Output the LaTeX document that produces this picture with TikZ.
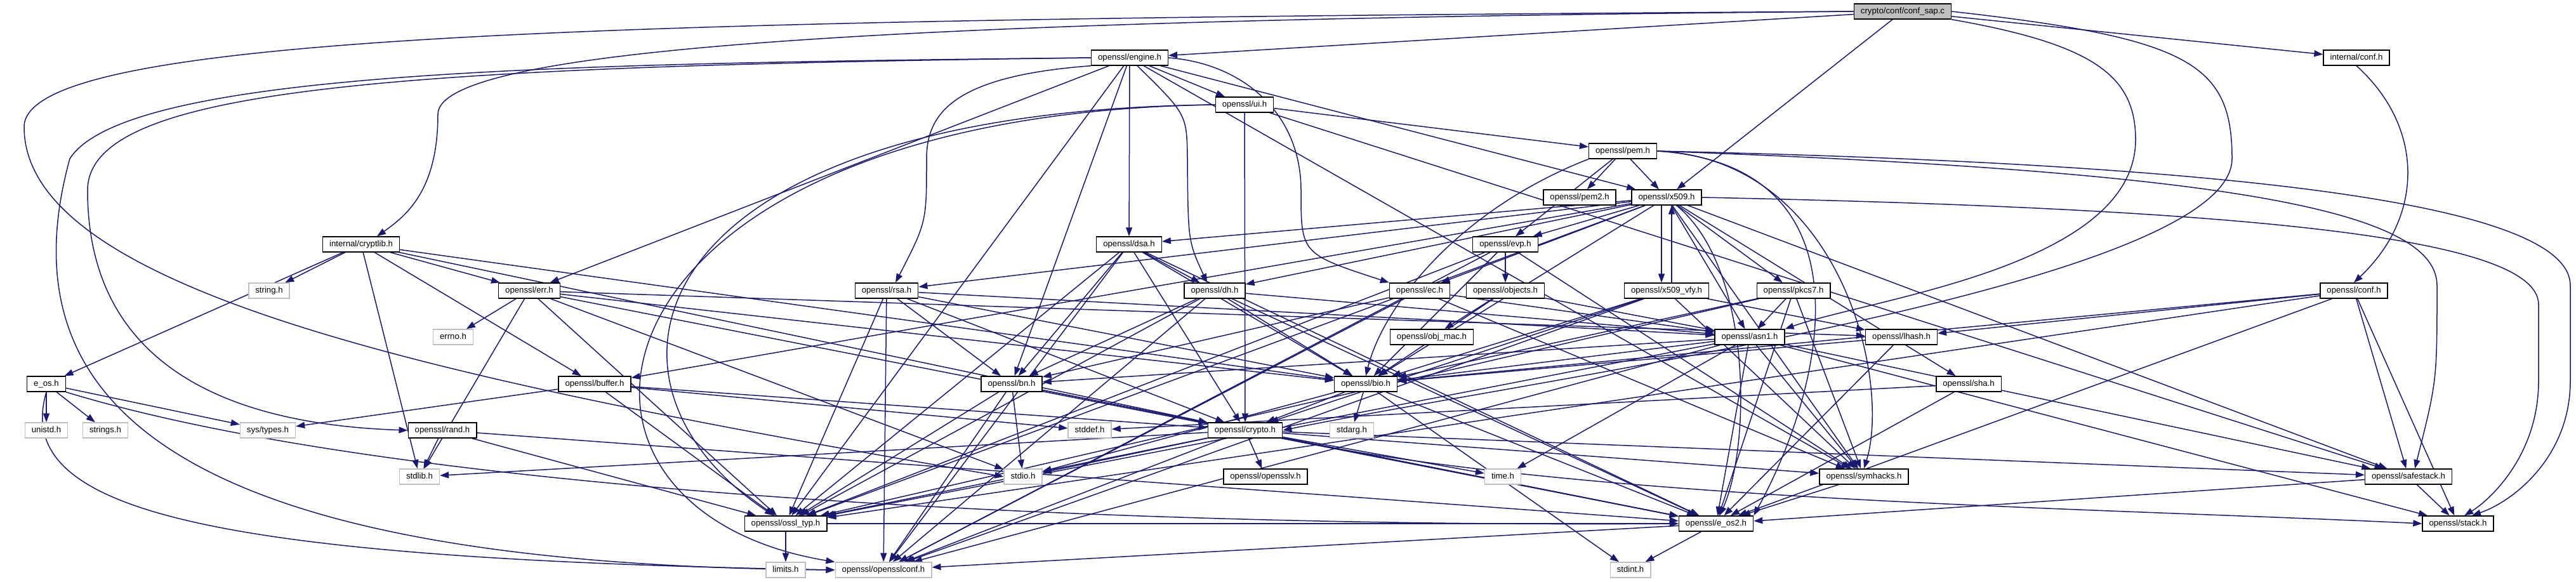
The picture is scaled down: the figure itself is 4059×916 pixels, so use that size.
\documentclass[tikz,border=0pt]{standalone}
\usepackage{fontspec}
\setmainfont{Liberation Sans}
\usepackage{xcolor}
\usetikzlibrary{arrows.meta, positioning}
\pgfdeclarelayer{background}
\pgfsetlayers{background,main}

\definecolor{edgeblue}{RGB}{25,25,112}
\definecolor{sysgray}{RGB}{191,191,191}

\tikzset{
  hfile/.style={draw=black, line width=1.4pt, fill=white, minimum height=24pt,
    inner xsep=10.5pt, inner ysep=0pt, text height=10pt, text depth=3pt,
    font=\fontsize{13.2}{14}\selectfont},
  sysfile/.style={hfile, draw=sysgray},
  srcfile/.style={hfile, fill=sysgray},
  dep/.style={draw=edgeblue, line width=1.5pt, -{Triangle[length=14pt,width=10pt]}},
}

\begin{document}
\begin{tikzpicture}[x=1pt, y=-1pt]
    \useasboundingbox (0,0) rectangle (4059,916);

    % Quelldatei und direkte Header
    \node[srcfile] (sap) at (2998,18) {crypto/conf/conf\_sap.c};
    \node[hfile] (iconf) at (3713,91) {internal/conf.h};
    \node[hfile] (engine) at (1780,91) {openssl/engine.h};
    \node[hfile] (ui) at (1961,165) {openssl/ui.h};
    \node[hfile] (pem) at (2557,238) {openssl/pem.h};
    \node[hfile] (pemtwo) at (2489,311) {openssl/pem2.h};
    \node[hfile] (xfvn) at (2626,311) {openssl/x509.h};
    \node[hfile] (evp) at (2372,385) {openssl/evp.h};
    \node[hfile] (dsa) at (1779,385) {openssl/dsa.h};
    \node[hfile] (cryptlib) at (569,385) {internal/cryptlib.h};

    % mittlere Ebenen
    \node[sysfile] (string) at (424,458) {string.h};
    \node[hfile] (err) at (834,458) {openssl/err.h};
    \node[hfile] (rsa) at (1397,458) {openssl/rsa.h};
    \node[hfile] (dh) at (1914,458) {openssl/dh.h};
    \node[hfile] (ec) at (2237,458) {openssl/ec.h};
    \node[hfile] (objects) at (2372,458) {openssl/objects.h};
    \node[hfile] (vfy) at (2626,458) {openssl/x509\_vfy.h};
    \node[hfile] (pkcs) at (2826,458) {openssl/pkcs7.h};
    \node[hfile] (confh) at (3709,458) {openssl/conf.h};
    \node[sysfile] (errno) at (714,531) {errno.h};
    \node[hfile] (objmac) at (2256,531) {openssl/obj\_mac.h};
    \node[hfile] (asn) at (2757,531) {openssl/asn1.h};
    \node[hfile] (lhash) at (2996,531) {openssl/lhash.h};
    \node[hfile] (eos) at (73,605) {e\_os.h};
    \node[hfile] (buffer) at (937,605) {openssl/buffer.h};
    \node[hfile] (bn) at (1594,605) {openssl/bn.h};
    \node[hfile] (bio) at (2152,605) {openssl/bio.h};
    \node[hfile] (sha) at (3102,605) {openssl/sha.h};

    % untere Ebenen
    \node[sysfile] (unistd) at (73,678) {unistd.h};
    \node[sysfile] (strings) at (166,678) {strings.h};
    \node[sysfile] (systypes) at (422,678) {sys/types.h};
    \node[hfile] (rand) at (697,678) {openssl/rand.h};
    \node[sysfile] (stddef) at (1717,678) {stddef.h};
    \node[hfile] (crypto) at (1962,678) {openssl/crypto.h};
    \node[sysfile] (stdarg) at (2130,678) {stdarg.h};
    \node[sysfile] (stdlib) at (661,751) {stdlib.h};
    \node[sysfile] (stdio) at (1612,751) {stdio.h};
    \node[hfile] (opensslv) at (1994,751) {openssl/opensslv.h};
    \node[sysfile] (time) at (2368,751) {time.h};
    \node[hfile] (symhacks) at (2937,751) {openssl/symhacks.h};
    \node[hfile] (safestack) at (3795,751) {openssl/safestack.h};
    \node[hfile] (ossltyp) at (1238,825) {openssl/ossl\_typ.h};
    \node[hfile] (eostwo) at (2704,825) {openssl/e\_os2.h};
    \node[hfile] (stack) at (3873,825) {openssl/stack.h};
    \node[sysfile] (limits) at (1238,898) {limits.h};
    \node[sysfile] (opensslconf) at (1392,898) {openssl/opensslconf.h};
    \node[sysfile] (stdint) at (2569,898) {stdint.h};

    \begin{pgfonlayer}{background}
    % conf_sap.c
    \foreach \t in {engine,iconf,xfvn} \draw[dep] (sap) -- (\t);
    \draw[dep] (sap.west) .. controls (1500,30) and (690,70) .. (690,180)
        .. controls (690,300) and (640,340) .. ([xshift=25pt]cryptlib.north);
    \draw[dep] (sap.west) .. controls (1000,30) and (38,50) .. (38,200)
        .. controls (38,460) and (700,600) .. (stdio.west);
    \draw[dep] (sap.east) .. controls (3450,60) and (3517,100) .. (3517,250)
        .. controls (3517,450) and (2400,600) .. (crypto.east);
    \draw[dep] (sap.south east) .. controls (3300,70) and (3365,120) .. (3365,220)
        .. controls (3365,420) and (2950,470) .. (asn.north east);
    \draw[dep] (iconf.south) .. controls (3820,200) and (3820,340) .. (confh.north);

    % engine.h
    \foreach \t in {bn,dsa,ui,err,ossltyp,symhacks,xfvn} \draw[dep] (engine) -- (\t);
    \draw[dep] (engine.west) .. controls (900,100) and (200,110) .. (110,250)
        .. controls (0,650) and (300,890) .. (opensslconf.west);
    \draw[dep] (engine.west) .. controls (600,105) and (138,140) .. (138,300)
        .. controls (138,600) and (400,670) .. (rand.west);
    \draw[dep] (engine.south west) .. controls (1500,120) and (1460,180) .. (1460,250)
        .. controls (1460,350) .. ([xshift=14pt]rsa.north);
    \draw[dep] ([xshift=12pt]engine.south) .. controls (1870,180) .. (1871,250)
        .. controls (1872,380) .. ([xshift=-12pt]dh.north);
    \draw[dep] (engine.east) .. controls (1960,100) and (2050,180) .. (2050,300)
        .. controls (2050,400) .. (ec.north west);

    % ui.h, pem.h
    \foreach \t in {pem,crypto,safestack} \draw[dep] (ui) -- (\t);
    \draw[dep] (ui.west) .. controls (1000,175) and (900,600) .. (ossltyp);
    \draw[dep] (ui.west) .. controls (900,180) and (800,800) .. (opensslconf);
    \foreach \t in {pemtwo,xfvn,evp} \draw[dep] (pem) -- (\t);
    \draw[dep] (pem.south west) .. controls (2300,330) and (2180,480) .. (bio.north);
    \draw[dep] (pem.east) .. controls (2950,260) and (2880,600) .. (eostwo.north east);
    \draw[dep] (pem.east) .. controls (2900,250) and (2980,600) .. (symhacks.north);
    \draw[dep] (pem.east) .. controls (3500,270) and (3840,330) .. (3840,450)
        .. controls (3840,600) .. ([xshift=10pt]safestack.north);
    \draw[dep] (pem.east) .. controls (3600,260) and (4050,330) .. (4050,450) -- (4050,600)
        .. controls (4050,720) and (3960,790) .. ([xshift=22pt]stack.north);

    % x509.h
    \foreach \t in {ossltyp,symhacks,buffer,evp,bio,asn,safestack,ec,rsa,dsa,dh,sha,pkcs}
        \draw[dep] (xfvn) -- (\t);
    \draw[dep] (xfvn) .. controls (2760,420) and (2760,700) .. (eostwo);
    \draw[dep] (xfvn.east) .. controls (3600,330) and (4000,380) .. (4000,480) -- (4000,600)
        .. controls (4000,720) and (3920,790) .. ([xshift=10pt]stack.north);
    \draw[dep] ([xshift=-8pt]xfvn.south) -- ([xshift=-8pt]vfy.north);
    \draw[dep] ([xshift=8pt]vfy.north) -- ([xshift=8pt]xfvn.south);

    % evp.h, dsa.h, internal/cryptlib.h
    \foreach \t in {opensslconf,ossltyp,symhacks,bio,objects} \draw[dep] (evp) -- (\t);
    \foreach \t in {opensslconf,eostwo,bio,crypto,ossltyp,bn,dh} \draw[dep] (dsa) -- (\t);
    \foreach \t in {stdlib,string,eos,crypto,buffer,bio,err} \draw[dep] (cryptlib) -- (\t);

    % Zeile von rsa.h bis conf.h
    \foreach \t in {opensslconf,asn,bio,crypto,ossltyp,bn} \draw[dep] (rsa) -- (\t);
    \foreach \t in {opensslconf,eostwo,bio,asn,ossltyp,bn} \draw[dep] (dh) -- (\t);
    \foreach \t in {eostwo,stdio,stdlib,ossltyp,bio,lhash,errno} \draw[dep] (err) -- (\t);
    \foreach \t in {opensslconf,asn,symhacks,bn} \draw[dep] (ec) -- (\t);
    \foreach \t in {objmac,bio,asn} \draw[dep] (objects) -- (\t);
    \foreach \t in {opensslconf,lhash,bio,crypto,symhacks} \draw[dep] (vfy) -- (\t);
    \foreach \t in {asn,bio,eostwo,symhacks,ossltyp} \draw[dep] (pkcs) -- (\t);
    \foreach \t in {bio,lhash,stack,safestack,eostwo,ossltyp} \draw[dep] (confh) -- (\t);

    % asn1.h, lhash.h, e_os.h
    \foreach \t in {time,eostwo,opensslconf,bio,stack,safestack,symhacks,ossltyp,bn}
        \draw[dep] (asn) -- (\t);
    \foreach \t in {eostwo,bio} \draw[dep] (lhash) -- (\t);
    \foreach \t in {unistd,systypes,strings} \draw[dep] (eos) -- (\t);
    \draw[dep] (eos.south) .. controls (20,800) and (300,880) .. (opensslconf.west);
    \draw[dep] (eos.south east) .. controls (700,800) and (2000,830) .. (eostwo.west);

    % buffer.h, bn.h, bio.h, sha.h, rand.h
    \foreach \t in {ossltyp,stddef,systypes,crypto} \draw[dep] (buffer) -- (\t);
    \foreach \t in {eostwo,stdio,opensslconf,ossltyp,crypto} \draw[dep] (bn) -- (\t);
    \foreach \t in {eostwo,stdio,stdarg,crypto,stdint} \draw[dep] (bio) -- (\t);
    \foreach \t in {eostwo,stddef} \draw[dep] (sha) -- (\t);
    \foreach \t in {stdlib,ossltyp,eostwo} \draw[dep] (rand) -- (\t);

    % crypto.h und die Basis-Header
    \foreach \t in {stdlib,time,eostwo,stdio,safestack,opensslv,ossltyp,opensslconf,symhacks}
        \draw[dep] (crypto) -- (\t);
    \draw[dep] (crypto.south east) .. controls (2500,790) and (3300,800) .. (stack.west);
    \draw[dep] (symhacks) -- (eostwo);
    \foreach \t in {stack,eostwo} \draw[dep] (safestack) -- (\t);
    \foreach \t in {limits,eostwo} \draw[dep] (ossltyp) -- (\t);
    \foreach \t in {opensslconf,stdint} \draw[dep] (eostwo) -- (\t);
    \end{pgfonlayer}
\end{tikzpicture}
\end{document}
